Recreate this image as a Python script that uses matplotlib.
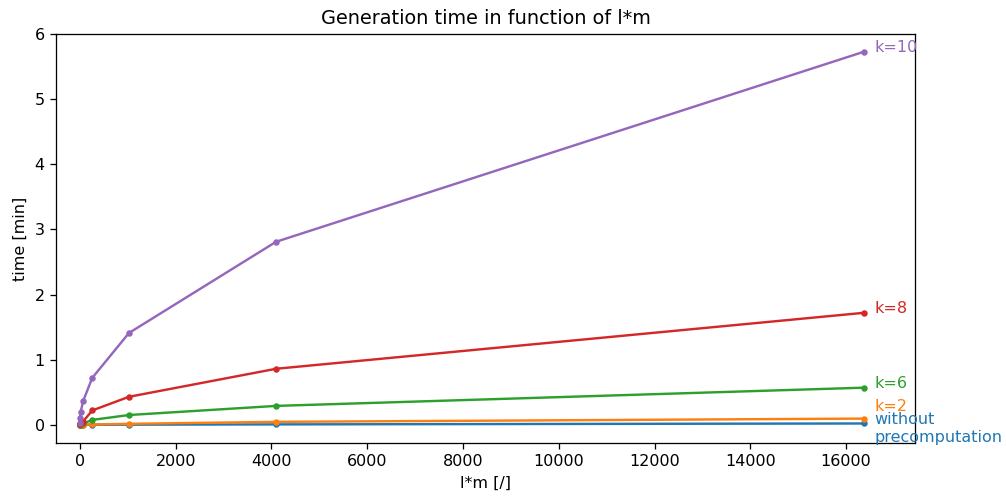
import numpy as np
import matplotlib
matplotlib.use('Agg')
import matplotlib.pyplot as plt

# l*m sizes and measured generation times (minutes)
lm = [1, 4, 16, 64, 256, 1024, 4096, 16384]
tWithout = [0.0, 0.0, 0.0, 0.0, 0.001, 0.002, 0.006, 0.02]
tK2 = [0.0, 0.0, 0.001, 0.002, 0.005, 0.015, 0.045, 0.095]
tK6 = [0.002, 0.005, 0.01, 0.02, 0.075, 0.15, 0.29, 0.57]
tK8 = [0.005, 0.01, 0.02, 0.05, 0.22, 0.43, 0.86, 1.72]
tK10 = [0.02, 0.1, 0.2, 0.36, 0.72, 1.41, 2.81, 5.73]

seriesNames = ['without\nprecomputation', 'k=2', 'k=6', 'k=8', 'k=10']
seriesValues = [tWithout, tK2, tK6, tK8, tK10]
# label offsets in points; the bottom label hangs below its point
labelShift = [7, 5, 0, 0, 0]
labelAlign = ['top', 'baseline', 'baseline', 'baseline', 'baseline']

dpi = 115.64
fig = plt.figure(figsize=(1006.01 / dpi, 498.01 / dpi), dpi=dpi)
ax = fig.add_axes([0.0557, 0.1104, 0.8538, 0.8213])

for i, (name, vals) in enumerate(zip(seriesNames, seriesValues)):
    color = 'C%d' % i
    ax.plot(lm, vals, '.-', color=color)
    ax.annotate(name, (lm[-1], vals[-1]), textcoords='offset points',
                xytext=(6, labelShift[i]), color=color, va=labelAlign[i])

ax.set_xlim(-500, 17440)
ax.set_ylim(-0.28, 6.0)
ax.set_title('Generation time in function of l*m')
ax.set_xlabel('l*m [/]')
ax.set_ylabel('time [min]')

fig.savefig('out.png', dpi=dpi)
